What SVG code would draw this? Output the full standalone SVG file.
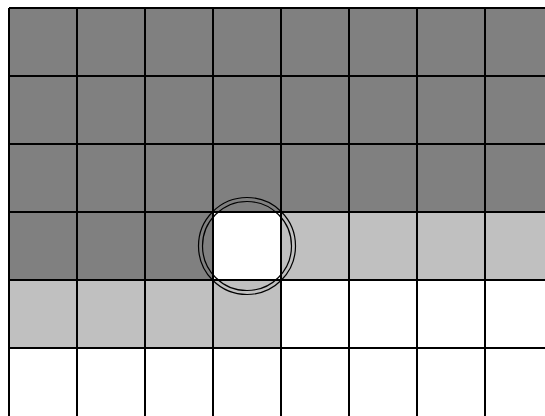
<svg xmlns="http://www.w3.org/2000/svg" width="545" height="416" viewBox="0 0 545 416">
<style>
.d{fill:#808080}.l{fill:#c0c0c0}.w{fill:#ffffff}
.g{stroke:#000;stroke-width:2;fill:none}
.c{stroke:#000;stroke-width:1.2;fill:none}
</style>
<rect width="545" height="416" fill="#fff"/>
<rect class="d" x="9" y="8" width="544" height="204"/>
<rect class="d" x="9" y="212" width="204" height="68"/>
<rect class="w" x="213" y="212" width="68" height="68"/>
<rect class="l" x="281" y="212" width="272" height="68"/>
<rect class="l" x="9" y="280" width="272" height="68"/>
<rect class="w" x="281" y="280" width="272" height="68"/>
<rect class="w" x="9" y="348" width="544" height="68"/>
<g class="g">
<path d="M9 8V416M77 8V416M145 8V416M213 8V416M281 8V416M349 8V416M417 8V416M485 8V416"/>
<path d="M9 8H545M9 76H545M9 144H545M9 212H545M9 280H545M9 348H545"/>
</g>
<circle class="c" cx="247" cy="246" r="48.5"/>
<circle class="c" cx="247" cy="246" r="44.5"/>
</svg>
